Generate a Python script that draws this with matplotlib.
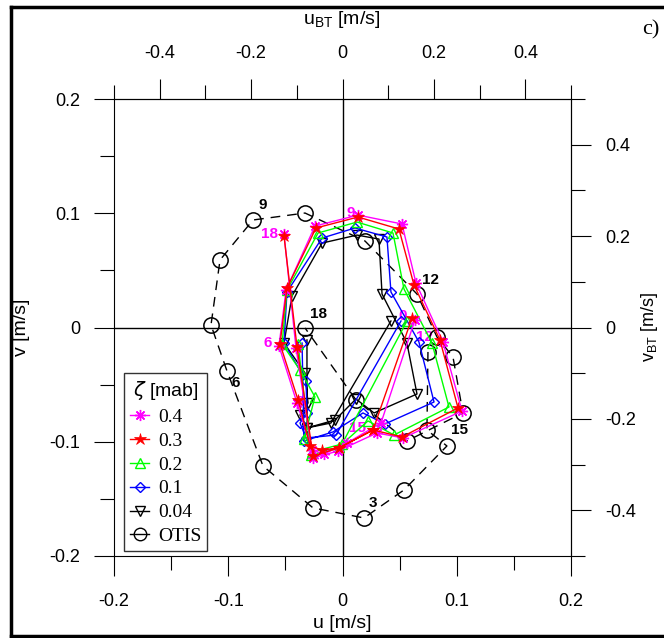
import numpy as np
import matplotlib.pyplot as plt
from matplotlib.lines import Line2D

plt.rcParams['font.family'] = ['Liberation Sans', 'DejaVu Sans']

# hourly current hodographs (u, v in m/s)
otis_u = [0.0748, 0.0739, 0.0914, 0.0538, 0.0188, -0.0258, -0.0696, -0.1011, -0.1151, -0.1072,
          -0.0783, -0.0328, 0.0197, 0.0652, 0.0827, 0.0967, 0.1054, 0.0564, 0.0118, -0.0328]
otis_v = [-0.0214, -0.0897, -0.1037, -0.1422, -0.1667, -0.1579, -0.1212, -0.0381, 0.0022, 0.0591,
          0.0941, 0.1002, 0.0757, 0.0293, -0.0083, -0.0258, -0.0748, -0.0993, -0.0634, -0.0004]

u_04 = [0.0634, 0.0337, 0.0039, -0.0162, -0.0267, -0.0398, -0.0556, -0.0494, -0.0241, 0.0136,
        0.0521, 0.0643, 0.0879, 0.1046, 0.0529, 0.0302, -0.0039, -0.0258, -0.0407, -0.0512]
v_04 = [0.0066, -0.0836, -0.1011, -0.1107, -0.1072, -0.0661, -0.0162, 0.0328, 0.0888, 0.0984,
        0.0906, 0.0389, -0.0127, -0.0731, -0.0967, -0.0923, -0.1081, -0.1142, -0.0179, 0.0818]

u_03 = [0.0608, 0.0267, -0.0031, -0.0179, -0.0284, -0.0389, -0.0547, -0.0486, -0.0232, 0.0136,
        0.0494, 0.0626, 0.0853, 0.1011, 0.0521, 0.0267, -0.0031, -0.0258, -0.0398, -0.0512]
v_03 = [0.0083, -0.0897, -0.1054, -0.1072, -0.1037, -0.0634, -0.0144, 0.0346, 0.0871, 0.0967,
        0.0862, 0.0372, -0.0109, -0.0704, -0.0958, -0.0897, -0.1054, -0.1124, -0.0171, 0.0801]

u_02 = [0.0564, -0.0004, -0.0267, -0.0337, -0.0241, -0.0372, -0.0529, -0.0486, -0.0214, 0.0127,
        0.0442, 0.0538, 0.0783, 0.0932, 0.0451, 0.0223, -0.0031, -0.0276, -0.0389]
v_02 = [0.0057, -0.1020, -0.1089, -0.0976, -0.0608, -0.0372, -0.0144, 0.0328, 0.0827, 0.0923,
        0.0827, 0.0337, -0.0136, -0.0696, -0.0941, -0.0818, -0.1046, -0.1116, -0.0144]

u_01 = [0.0512, -0.0057, -0.0319, -0.0372, -0.0311, -0.0319, -0.0512, -0.0486, -0.0179, 0.0109,
        0.0389, 0.0424, 0.0669, 0.0801, 0.0372, 0.0179, -0.0083, -0.0337, -0.0354]
v_01 = [0.0057, -0.0941, -0.0967, -0.0836, -0.0748, -0.0468, -0.0136, 0.0311, 0.0783, 0.0871,
        0.0792, 0.0311, -0.0127, -0.0652, -0.0844, -0.0748, -0.0914, -0.0993, -0.0136]

u_004 = [0.0424, -0.0101, -0.0311, -0.0372, -0.0302, -0.0328, -0.0512, -0.0442, -0.0179, 0.0127,
         0.0319, 0.0346, 0.0564, 0.0652, 0.0276, 0.0118, -0.0066, -0.0311, -0.0311]
v_004 = [0.0057, -0.0836, -0.0879, -0.0766, -0.0661, -0.0398, -0.0136, 0.0276, 0.0739, 0.0809,
         0.0774, 0.0293, -0.0136, -0.0582, -0.0748, -0.0626, -0.0810, -0.0879, -0.0109]

# hour labels
otis_lab = ['9', '12', '15', '3', '6', '18']
otis_lab_u = [-0.0696, 0.0766, 0.1028, 0.0267, -0.0932, -0.0214]
otis_lab_v = [0.1072, 0.0416, -0.0897, -0.1536, -0.0486, 0.0118]
mag_lab = ['0', '3', '15', '12', '9', '18', '6']
mag_lab_u = [0.0529, -0.0372, 0.0127, 0.0722, 0.0074, -0.0643, -0.0652]
mag_lab_v = [0.0101, -0.0652, -0.0879, -0.0083, 0.1002, 0.0818, -0.0136]

fig = plt.figure(figsize=(6.64, 6.38), dpi=100)
ax = fig.add_axes([114/664, 82/638, 457/664, 457/638])
ax.set_xlim(-0.2, 0.2)
ax.set_ylim(-0.2, 0.2)

ax.axhline(0, color='black', lw=1, zorder=1)
ax.axvline(0, color='black', lw=1, zorder=1)

for t, x, y in zip(mag_lab, mag_lab_u, mag_lab_v):
    ax.text(x, y, t, color='magenta', fontsize=11, fontweight='bold', ha='center', va='center', zorder=2)

ax.plot(otis_u, otis_v, color='black', lw=1, dashes=(7, 5), marker='o', ms=11,
        mfc='none', mec='black', mew=1.1, zorder=3)
ax.plot(u_004, v_004, color='black', lw=1, marker='v', ms=7, mfc='none', mew=1, zorder=4)
ax.plot(u_01, v_01, color='blue', lw=1, marker='D', ms=5.5, mfc='none', mew=1, zorder=5)
ax.plot(u_02, v_02, color='#00ff00', lw=1, marker='^', ms=7, mfc='none', mew=1, zorder=6)
ax.plot(u_04, v_04, color='magenta', lw=1, marker=(8, 2, 0), ms=8, mew=1, zorder=7)
ax.plot(u_03, v_03, color='red', lw=1, marker='*', ms=9, mew=0.5, zorder=8)

for t, x, y in zip(otis_lab, otis_lab_u, otis_lab_v):
    ax.text(x, y, t, color='black', fontsize=11, fontweight='bold', ha='center', va='center', zorder=9)

ax.set_xticks([-0.2, -0.1, 0, 0.1, 0.2])
ax.set_xticklabels(['-0.2', '-0.1', '0', '0.1', '0.2'])
ax.set_yticks([-0.2, -0.1, 0, 0.1, 0.2])
ax.set_yticklabels(['-0.2', '-0.1', '0', '0.1', '0.2'])
ax.set_xticks([-0.15, -0.05, 0.05, 0.15], minor=True)
ax.set_yticks([-0.15, -0.05, 0.05, 0.15], minor=True)
ax.tick_params(which='major', direction='out', length=14.4, width=0.8, labelsize=13, pad=10)
ax.tick_params(which='minor', direction='out', length=10, width=0.8)
ax.tick_params(axis='x', which='major', pad=12)

sx = ax.secondary_xaxis('top', functions=(lambda x: 2.5 * x, lambda x: x / 2.5))
sx.set_xticks([-0.4, -0.2, 0, 0.2, 0.4])
sx.set_xticklabels(['-0.4', '-0.2', '0', '0.2', '0.4'])
sx.set_xticks([-0.5, -0.3, -0.1, 0.1, 0.3, 0.5], minor=True)
sx.tick_params(which='major', direction='out', length=14.4, width=0.8, labelsize=13, pad=12)
sx.tick_params(which='minor', direction='out', length=10, width=0.8)

sy = ax.secondary_yaxis('right', functions=(lambda x: 2.5 * x, lambda x: x / 2.5))
sy.set_yticks([-0.4, -0.2, 0, 0.2, 0.4])
sy.set_yticklabels(['-0.4', '-0.2', '0', '0.2', '0.4'])
sy.set_yticks([-0.5, -0.3, -0.1, 0.1, 0.3, 0.5], minor=True)
sy.tick_params(which='major', direction='out', length=14.4, width=0.8, labelsize=13, pad=10)
sy.tick_params(which='minor', direction='out', length=10, width=0.8)

for a in (ax, sx, sy):
    for sp in a.spines.values():
        sp.set_linewidth(0.8)

fig.text(342/664, 1 - 623/638, 'u [m/s]', ha='center', va='center', fontsize=14)
fig.text(22/664, 1 - 327/638, 'v [m/s]', ha='center', va='center', fontsize=14, rotation=90)
fig.text(342/664, 1 - 20/638, r'u$_{\mathregular{BT}}$ [m/s]', ha='center', va='center', fontsize=14)
fig.text(650/664, 1 - 327/638, r'v$_{\mathregular{BT}}$ [m/s]', ha='center', va='center', fontsize=13,
         rotation=90)
fig.text(651/664, 1 - 30/638, 'c)', ha='center', va='center', fontsize=16, family='Liberation Serif')

# outer frame
fig.add_artist(Line2D([11/664, 11/664], [1 - 7/638, 1 - 636/638], color='black', lw=2.5))
fig.add_artist(Line2D([11/664, 1.0], [1 - 7/638, 1 - 7/638], color='black', lw=2.5))
fig.add_artist(Line2D([11/664, 1.0], [1 - 636/638, 1 - 636/638], color='black', lw=2.5))

handles = [
    Line2D([], [], color='magenta', lw=1, marker=(8, 2, 0), ms=8, mew=1),
    Line2D([], [], color='red', lw=1, marker='*', ms=9, mew=0.5),
    Line2D([], [], color='#00ff00', lw=1, marker='^', ms=7, mfc='none', mew=1),
    Line2D([], [], color='blue', lw=1, marker='D', ms=5.5, mfc='none', mew=1),
    Line2D([], [], color='black', lw=1, marker='v', ms=7, mfc='none', mew=1),
    Line2D([], [], color='black', lw=1, marker='o', ms=9, mfc='none', mew=1),
]
labels = ['0.4', '0.3', '0.2', '0.1', '0.04', 'OTIS']
leg = ax.legend(handles, labels, loc='lower left', bbox_to_anchor=(0.022, 0.011),
                title=r'$\zeta$ [mab]', prop={'family': 'Liberation Serif', 'size': 14},
                title_fontsize=14, frameon=True, fancybox=False, edgecolor='black',
                handlelength=1.0, borderaxespad=0, borderpad=0.3, labelspacing=0.32,
                handletextpad=0.45)
leg.get_frame().set_linewidth(1)
leg.set_zorder(10)

fig.savefig('out.png', dpi=100)
